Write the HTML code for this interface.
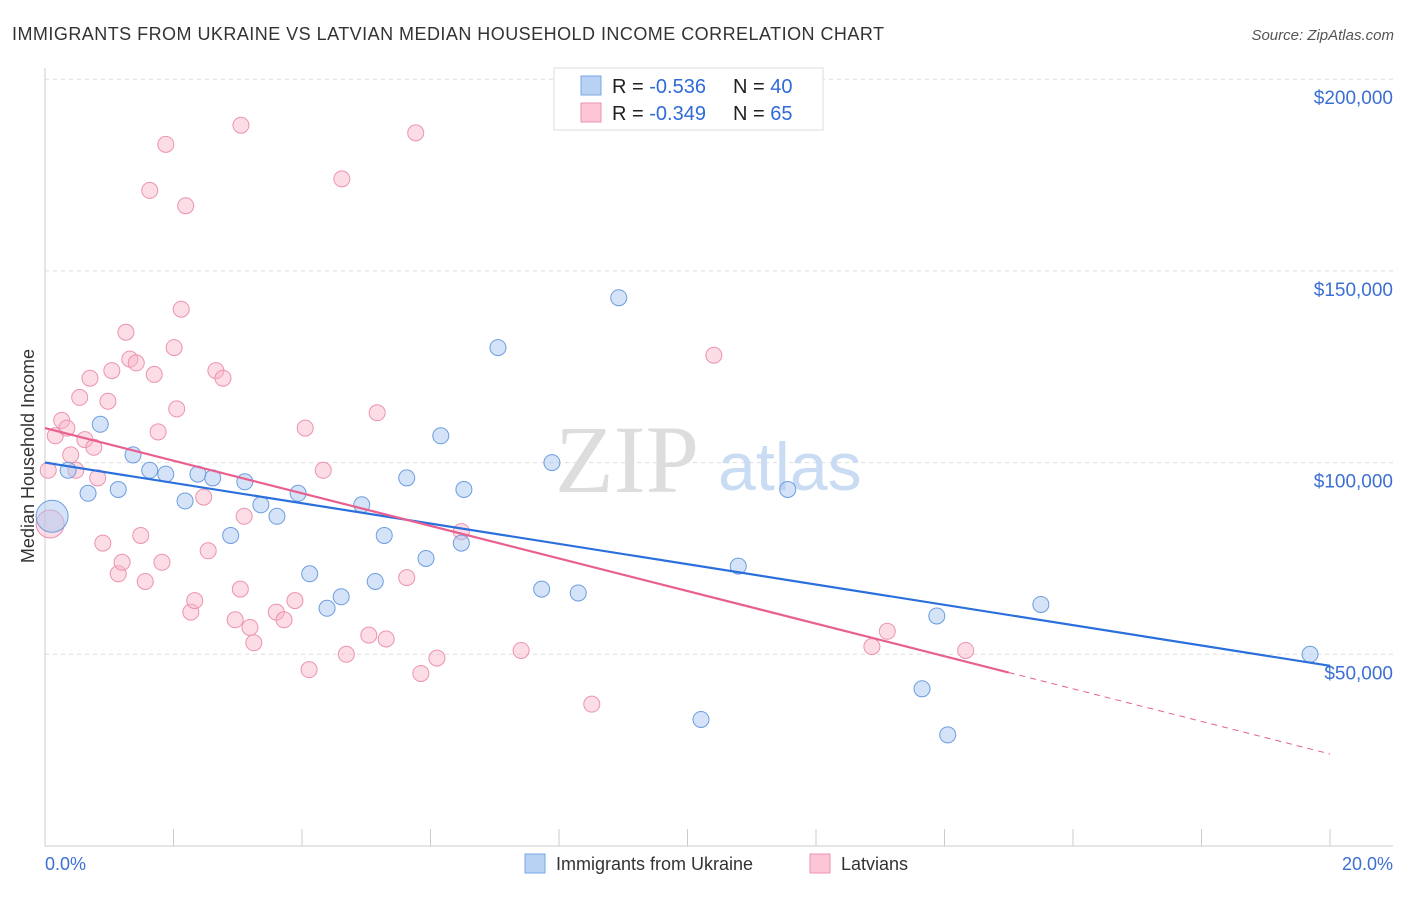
<!DOCTYPE html>
<html><head><meta charset="utf-8"><style>
body{margin:0;background:#fff;font-family:"Liberation Sans",sans-serif}
svg text{font-family:"Liberation Sans",sans-serif}
</style></head><body>
<svg id="c" width="1406" height="892">
<text x="12" y="40" font-size="18" fill="#333" textLength="872">IMMIGRANTS FROM UKRAINE VS LATVIAN MEDIAN HOUSEHOLD INCOME CORRELATION CHART</text>
<text x="1394" y="40" font-size="15" fill="#555" text-anchor="end" font-style="italic">Source: ZipAtlas.com</text>
<text x="34" y="456" font-size="18" fill="#333" text-anchor="middle" transform="rotate(-90 34 456)">Median Household Income</text>
<g id="grid"></g>
<text x="555" y="492" font-size="96" fill="#ddd" style="font-family:'Liberation Serif',serif">ZIP</text>
<text x="718" y="490" font-size="68" fill="#c9dcf3">atlas</text>
<g id="pts"></g>
<g id="lines"></g>
<g>
<rect x="554" y="68" width="269" height="62" fill="#fff" stroke="#ddd"/>
<rect x="581" y="76" width="20" height="19" fill="#b8d2f4" stroke="#7aa6e6"/>
<rect x="581" y="103" width="20" height="19" fill="#fcc6d6" stroke="#ec93ae"/>
<text x="612" y="93" font-size="20" fill="#222">R = <tspan fill="#2f6ad8">-0.536</tspan></text>
<text x="733" y="93" font-size="20" fill="#222">N = <tspan fill="#2f6ad8">40</tspan></text>
<text x="612" y="120" font-size="20" fill="#222">R = <tspan fill="#2f6ad8">-0.349</tspan></text>
<text x="733" y="120" font-size="20" fill="#222">N = <tspan fill="#2f6ad8"> 65</tspan></text>
</g>
<text x="45" y="870" font-size="18" fill="#3b6fd4">0.0%</text>
<text x="1393" y="870" font-size="18" fill="#3b6fd4" text-anchor="end">20.0%</text>
<g>
<rect x="525" y="854" width="20" height="19" fill="#b8d2f4" stroke="#7aa6e6"/>
<text x="556" y="870" font-size="18" fill="#333">Immigrants from Ukraine</text>
<rect x="810" y="854" width="20" height="19" fill="#fcc6d6" stroke="#ec93ae"/>
<text x="841" y="870" font-size="18" fill="#333">Latvians</text>
</g>
</svg>
<script>
const yTicks=[50000,100000,150000,200000];
const yTickLabels=["$50,000","$100,000","$150,000","$200,000"];
const blueX=[0.11,0.36,0.67,0.86,1.14,1.37,1.63,1.88,2.18,2.38,2.61,3.11,3.36,3.61,2.89,3.94,4.12,4.39,4.61,4.93,5.14,5.28,5.63,5.93,6.16,6.48,6.52,7.05,7.73,7.89,8.30,8.93,10.21,10.79,11.56,13.65,13.88,14.05,15.50,19.69];
const blueY=[86000,98000,92000,110000,93000,102000,98000,97000,90000,97000,96000,95000,89000,86000,81000,92000,71000,62000,65000,89000,69000,81000,96000,75000,107000,79000,93000,130000,67000,100000,66000,143000,33000,73000,93000,41000,60000,29000,63000,50000];
const pinkX=[0.08,0.16,0.26,0.34,0.40,0.48,0.54,0.62,0.70,0.76,0.82,0.90,0.98,1.04,1.14,1.20,1.26,1.32,1.42,1.49,1.56,1.63,1.70,1.76,1.82,1.88,2.01,2.05,2.12,2.19,2.27,2.33,2.47,2.54,2.66,2.77,2.96,3.04,3.05,3.10,3.19,3.25,3.60,3.72,3.89,4.05,4.11,4.33,4.62,4.69,5.04,5.17,5.31,5.63,5.77,5.85,6.10,6.48,7.41,8.51,10.41,12.87,13.11,14.33,0.05];
const pinkY=[84000,107000,111000,109000,102000,98000,117000,106000,122000,104000,96000,79000,116000,124000,71000,74000,134000,127000,126000,81000,69000,171000,123000,108000,74000,183000,130000,114000,140000,167000,61000,64000,91000,77000,124000,122000,59000,67000,188000,86000,57000,53000,61000,59000,64000,109000,46000,98000,174000,50000,55000,113000,54000,70000,186000,45000,49000,82000,51000,37000,128000,52000,56000,51000,98000];
const blueFit=[100000,47000];
const pinkFit=[109000,24000];
const pinkSolidEnd=15.0;
const X=p=>45+p*64.25, Y=v=>846-v*0.003834;
const ns="http://www.w3.org/2000/svg";
function mk(t,a,p){const e=document.createElementNS(ns,t);for(const k in a)e.setAttribute(k,a[k]);p.appendChild(e);return e;}
const g=document.getElementById('grid');
yTicks.forEach((v,i)=>{
 const l=mk('line',{x1:45,x2:1393,y1:Y(v),y2:Y(v),stroke:'#ddd','stroke-dasharray':'4,4'},g);
 
 
 const t=mk('text',{x:1393,y:Y(v)+25,'font-size':19,fill:'#3b6fd4','text-anchor':'end'},g);
 t.textContent=yTickLabels[i];
 
 
});
mk('line',{x1:45,x2:45,y1:68,y2:846,stroke:'#ccc'},g);
mk('line',{x1:45,x2:1393,y1:846,y2:846,stroke:'#ccc'},g);
for(let i=0;i<=10;i++){const t=mk('line',{x1:X(i*2),x2:X(i*2),y1:829,y2:846,stroke:'#ccc'},g);
 
 }
const P=document.getElementById('pts');
pinkX.forEach((x,i)=>{const c=mk('circle',{cx:X(x),cy:Y(pinkY[i]),r:i==0?14:8,fill:'rgba(248,180,200,0.45)',stroke:'#ec93ae','stroke-width':1},P);
 
 });
blueX.forEach((x,i)=>{const c=mk('circle',{cx:X(x),cy:Y(blueY[i]),r:i==0?16:8,fill:'rgba(170,200,240,0.5)',stroke:'#6d9de0','stroke-width':1},P);
 
 });
const L=document.getElementById('lines');
const bl=mk('line',{x1:X(0),y1:Y(blueFit[0]),x2:X(20),y2:Y(blueFit[1]),stroke:'#2a6fdb','stroke-width':2.2},L);


const pe=pinkFit[0]+(pinkFit[1]-pinkFit[0])*pinkSolidEnd/20;
const pl=mk('line',{x1:X(0),y1:Y(pinkFit[0]),x2:X(pinkSolidEnd),y2:Y(pe),stroke:'#e8608f','stroke-width':2.2},L);


const pd=mk('line',{x1:X(pinkSolidEnd),y1:Y(pe),x2:X(20),y2:Y(pinkFit[1]),stroke:'#e8608f','stroke-width':1,'stroke-dasharray':'6,5'},L);


</script>
</body></html>
